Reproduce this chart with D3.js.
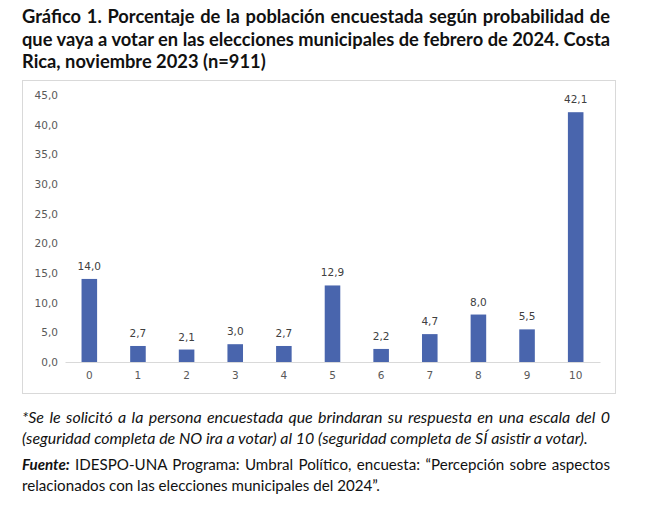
<!DOCTYPE html>
<html>
<head>
<meta charset="utf-8">
<script src="https://cdn.jsdelivr.net/npm/d3@7"></script>
<style>
  body { margin: 0; background: #fff; }
  svg { display: block; }
</style>
</head>
<body>
<svg width="661" height="507"></svg>
<script>
// data
const categories = ["0", "1", "2", "3", "4", "5", "6", "7", "8", "9", "10"];
const values = [14.0, 2.7, 2.1, 3.0, 2.7, 12.9, 2.2, 4.7, 8.0, 5.5, 42.1];
const yTicks = [0, 5, 10, 15, 20, 25, 30, 35, 40, 45];

const titleLines = [
    "Gráfico 1. Porcentaje de la población encuestada según probabilidad de",
    "que vaya a votar en las elecciones municipales de febrero de 2024. Costa",
    "Rica, noviembre 2023 (n=911)"
];
const noteLines = [
    "*Se le solicitó a la persona encuestada que brindaran su respuesta en una escala del 0",
    "(seguridad completa de NO ira a votar) al 10 (seguridad completa de SÍ asistir a votar)."
];
const sourceLines = [
    "IDESPO-UNA Programa: Umbral Político, encuesta: “Percepción sobre aspectos",
    "relacionados con las elecciones municipales del 2024”."
];

const svg = d3.select("svg");
const font = "'DejaVu Sans', sans-serif";
const textFont = "'Lato', 'DejaVu Sans', sans-serif";
const grey = "#595959";
const fmt = d3.formatLocale({decimal: ",", thousands: ".", grouping: [3], currency: ["", ""]}).format(".1f");

// scale the font of a block so that one reference line has the given width
function fitTo(sel, ref, width) {
    const size = +sel.attr("font-size");
    sel.attr("font-size", size * width / ref.node().getComputedTextLength());
}

// spread the words of a line so it ends at the right margin
function justify(sel, width) {
    sel.each(function() {
        const t = d3.select(this);
        const gaps = t.text().split(" ").length - 1;
        const extra = width - this.getComputedTextLength();
        if (gaps > 0 && extra > 0) t.attr("word-spacing", extra / gaps);
    });
}

// title
const title = svg.append("g").selectAll("text")
    .data(titleLines)
    .join("text")
    .attr("x", 22)
    .attr("y", (d, i) => 23 + i * 22.5)
    .attr("font-family", textFont)
    .attr("font-weight", "bold")
    .attr("font-size", 17)
    .attr("fill", "#111")
    .text(d => d);
fitTo(title, title.filter((d, i) => i === 1), 588);
justify(title.filter((d, i) => i < 2), 588);

// chart frame
svg.append("rect")
    .attr("x", 22.5).attr("y", 80.5)
    .attr("width", 593).attr("height", 313)
    .attr("fill", "none").attr("stroke", "#d9d9d9");

const x = d3.scaleBand()
    .domain(categories)
    .range([65, 600])
    .paddingInner(0.68)
    .paddingOuter(0.34);

const y = d3.scaleLinear()
    .domain([0, 45])
    .range([362, 95]);

// y axis
const yAxis = svg.append("g")
    .attr("transform", "translate(58,0)")
    .call(d3.axisLeft(y).tickValues(yTicks).tickSize(0).tickFormat(fmt));
yAxis.select(".domain").remove();
yAxis.selectAll("text")
    .attr("font-family", font).attr("font-size", 10.5).attr("fill", grey).attr("x", 0);

// bars
svg.append("g").selectAll("rect")
    .data(values)
    .join("rect")
    .attr("x", (d, i) => x(categories[i]))
    .attr("y", d => y(d))
    .attr("width", x.bandwidth())
    .attr("height", d => y(0) - y(d))
    .attr("fill", "#4965ad");

// x axis
const xAxis = svg.append("g")
    .attr("transform", `translate(0,${y(0)})`)
    .call(d3.axisBottom(x).tickSize(0).tickPadding(10));
xAxis.select(".domain").attr("stroke", "#d9d9d9");
xAxis.selectAll("text")
    .attr("font-family", font).attr("font-size", 10.5).attr("fill", grey);

// value labels
svg.append("g").selectAll("text")
    .data(values)
    .join("text")
    .attr("x", (d, i) => x(categories[i]) + x.bandwidth() / 2)
    .attr("y", d => y(d) - 9)
    .attr("text-anchor", "middle")
    .attr("font-family", font)
    .attr("font-size", 10.5)
    .attr("fill", "#404040")
    .text(d => fmt(d));

// note
const note = svg.append("g").selectAll("text")
    .data(noteLines)
    .join("text")
    .attr("x", 22)
    .attr("y", (d, i) => 423 + i * 20.5)
    .attr("font-family", textFont)
    .attr("font-style", "italic")
    .attr("font-size", 14)
    .attr("fill", "#111")
    .text(d => d);
fitTo(note, note.filter((d, i) => i === 1), 566);
justify(note.filter((d, i) => i === 0), 588);

// source
const src = svg.append("g");
const src1 = src.append("text")
    .attr("x", 22).attr("y", 470)
    .attr("font-family", textFont).attr("font-size", 14).attr("fill", "#111")
    .call(t => t.append("tspan").attr("font-weight", "bold").attr("font-style", "italic").text("Fuente:"))
    .call(t => t.append("tspan").text(" " + sourceLines[0]));
const src2 = src.append("text")
    .attr("x", 22).attr("y", 490.5)
    .attr("font-family", textFont).attr("font-size", 14).attr("fill", "#111")
    .text(sourceLines[1]);
fitTo(src.selectAll("text"), src2, 358);
justify(src1, 588);
</script>
</body>
</html>
